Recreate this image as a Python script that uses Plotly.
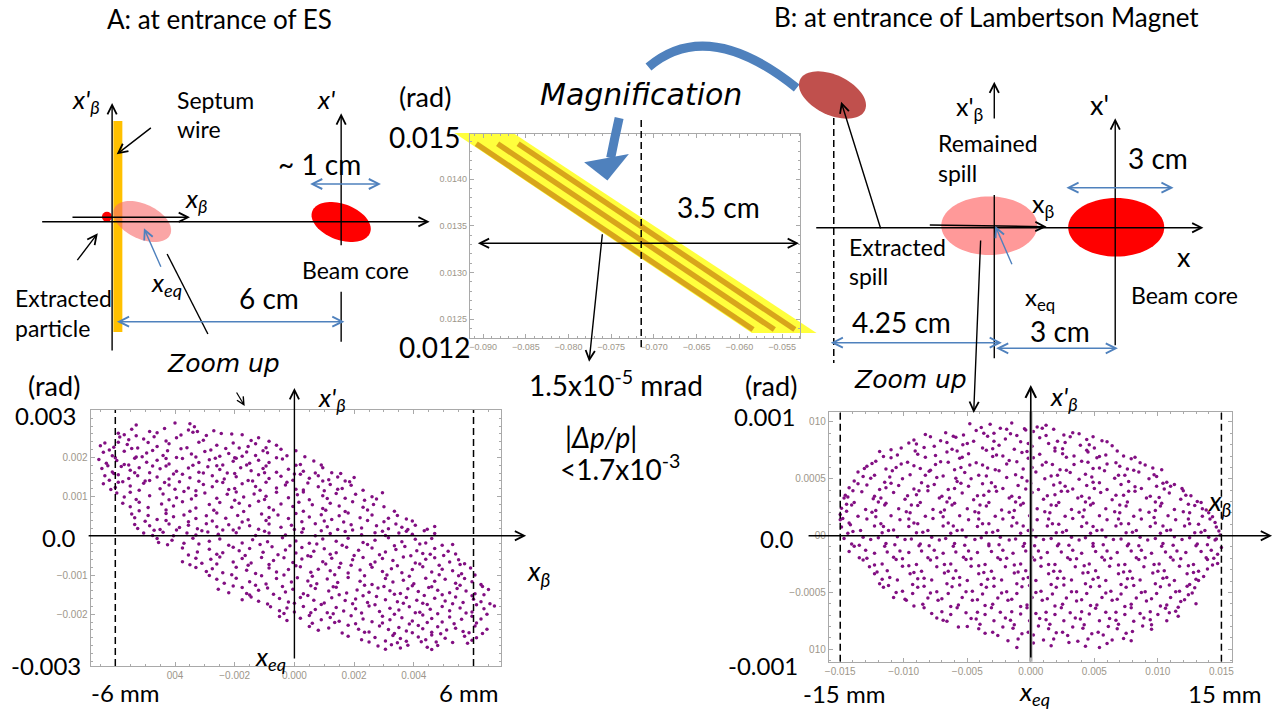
import plotly.graph_objects as go
import numpy as np

W, H = 1286, 711

# ------------------------------------------------------------------ data
# Bottom-left panel (A: zoom up at entrance of ES)
LEFT_RANGE_X = [-0.00683, 0.00693]
LEFT_RANGE_Y = [-0.00332, 0.00321]
LEFT_X_TICKS = [-0.004, -0.002, 0.0, 0.002, 0.004]
LEFT_X_TICKTEXT = ["004", "\u22120.002", "0.000", "0.002", "0.004"]
LEFT_Y_TICKS = [-0.002, -0.001, 0.0, 0.001, 0.002]
LEFT_Y_TICKTEXT = ["\u22120.002", "\u22120.001", "", "0.001", "0.002"]
LEFT_LIMITS = [-0.006, 0.006]

# particles (x in mm, x' in mrad)
LEFT_POINTS = [
    (-5.3, 2.83), (-4.0, 2.88), (-3.5, 2.86), (-3.35, 2.78),
    (-5.9, 2.62), (-5.45, 2.72), (-4.85, 2.66), (-4.35, 2.74), (-3.55, 2.70), (-3.4, 2.64), (-2.7, 2.68), (-2.45, 2.61), (-1.75, 2.58),
    (-5.85, 2.52), (-5.55, 2.45), (-5.3, 2.55), (-5.05, 2.47), (-4.7, 2.53), (-4.3, 2.42), (-3.95, 2.50), (-3.05, 2.44), (-2.95, 2.56), (-1.45, 2.43), (-1.2, 2.50), (-0.85, 2.41),
    (-6.5, 2.30), (-6.35, 2.37), (-6.05, 2.26), (-5.9, 2.39), (-5.6, 2.33), (-5.25, 2.24), (-4.9, 2.38), (-4.6, 2.28), (-4.2, 2.35), (-3.6, 2.25), (-3.2, 2.39), (-2.6, 2.31), (-2.3, 2.23), (-2.05, 2.37), (-1.55, 2.28), (-1.3, 2.35), (-0.95, 2.25), (-0.6, 2.31),
    (-6.4, 2.13), (-6.1, 2.04), (-5.7, 2.16), (-5.3, 2.01), (-4.95, 2.11), (-4.4, 2.05), (-4.25, 2.17), (-3.95, 2.00), (-3.45, 2.09), (-3.0, 2.15), (-2.5, 2.03), (-2.2, 2.10), (-2.0, 1.99), (-1.6, 2.14), (-1.3, 2.05), (-0.9, 2.12), (-0.25, 2.04), (0.05, 2.17),
    (-6.55, 1.95), (-6.3, 1.85), (-5.95, 1.92), (-5.7, 1.82), (-5.35, 1.98), (-4.95, 1.88), (-4.6, 1.93), (-4.2, 1.83), (-3.75, 1.97), (-3.2, 1.87), (-2.85, 1.94), (-2.4, 1.81), (-2.05, 1.90), (-1.95, 1.98), (-1.5, 1.85), (-1.2, 1.93), (-0.85, 1.87), (-0.4, 1.96), (0.2, 1.82), (0.65, 1.91),
    (-6.45, 1.72), (-6.1, 1.63), (-5.8, 1.77), (-5.5, 1.67), (-5.2, 1.74), (-4.85, 1.61), (-4.5, 1.71), (-4.3, 1.78), (-3.95, 1.65), (-3.55, 1.73), (-3.2, 1.62), (-2.9, 1.76), (-2.5, 1.69), (-2.25, 1.60), (-1.8, 1.74), (-1.45, 1.66), (-1.05, 1.72), (-0.6, 1.62), (-0.2, 1.70), (0.3, 1.65), (0.95, 1.74), (1.25, 1.61),
    (-6.35, 1.53), (-6.2, 1.42), (-5.9, 1.56), (-5.55, 1.46), (-5.25, 1.53), (-5.0, 1.40), (-4.6, 1.50), (-4.2, 1.45), (-3.75, 1.57), (-3.5, 1.48), (-3.2, 1.39), (-2.75, 1.53), (-2.35, 1.45), (-1.95, 1.51), (-1.55, 1.41), (-1.2, 1.56), (-0.85, 1.46), (-0.45, 1.52), (-0.05, 1.42), (0.2, 1.57), (0.5, 1.47), (0.8, 1.53), (1.15, 1.43), (1.45, 1.50), (1.7, 1.40), (2.0, 1.49),
    (-6.4, 1.33), (-6.0, 1.23), (-5.9, 1.37), (-5.5, 1.27), (-5.05, 1.34), (-4.5, 1.20), (-4.2, 1.30), (-3.85, 1.38), (-3.55, 1.22), (-3.05, 1.31), (-2.75, 1.25), (-2.4, 1.36), (-2.0, 1.21), (-1.75, 1.33), (-1.3, 1.26), (-0.95, 1.37), (-0.6, 1.22), (-0.3, 1.30), (0.05, 1.19), (0.45, 1.35), (0.8, 1.25), (1.2, 1.31), (1.6, 1.21), (1.9, 1.29),
    (-5.95, 1.09), (-5.7, 0.99), (-5.5, 1.11), (-4.85, 1.02), (-4.4, 1.07), (-3.95, 0.97), (-3.7, 1.13), (-3.3, 1.03), (-3.0, 1.09), (-2.6, 0.96), (-2.25, 1.06), (-1.95, 1.12), (-1.7, 0.99), (-1.35, 1.07), (-0.95, 1.01), (-0.6, 1.11), (-0.2, 0.97), (0.1, 1.05), (0.3, 1.12), (0.95, 1.02), (1.4, 1.08), (1.7, 0.96), (2.05, 1.06), (2.6, 1.00), (2.95, 1.10),
    (-5.75, 0.83), (-5.5, 0.74), (-5.2, 0.86), (-4.9, 0.72), (-4.45, 0.81), (-4.05, 0.76), (-3.75, 0.87), (-3.3, 0.71), (-2.85, 0.80), (-2.5, 0.85), (-2.1, 0.73), (-1.85, 0.83), (-1.5, 0.77), (-1.2, 0.88), (-0.85, 0.72), (-0.45, 0.81), (-0.05, 0.75), (0.15, 0.86), (0.6, 0.79), (0.95, 0.70), (1.2, 0.83), (1.5, 0.76), (1.95, 0.87), (2.3, 0.73), (2.65, 0.80), (3.0, 0.74),
    (-5.45, 0.56), (-5.35, 0.46), (-4.9, 0.52), (-4.6, 0.42), (-4.3, 0.57), (-4.05, 0.49), (-3.7, 0.53), (-3.3, 0.44), (-2.95, 0.51), (-2.6, 0.58), (-2.3, 0.45), (-1.9, 0.52), (-1.55, 0.41), (-1.1, 0.56), (-0.85, 0.47), (-0.55, 0.53), (-0.2, 0.44), (0.05, 0.57), (0.5, 0.48), (0.9, 0.54), (1.25, 0.42), (1.5, 0.51), (1.8, 0.58), (2.2, 0.46), (2.6, 0.53), (3.15, 0.45), (3.45, 0.52), (3.75, 0.43),
    (-5.35, 0.29), (-5.25, 0.19), (-4.85, 0.26), (-4.5, 0.16), (-4.2, 0.30), (-3.85, 0.21), (-3.55, 0.27), (-3.25, 0.18), (-2.95, 0.31), (-2.6, 0.23), (-2.4, 0.15), (-2.2, 0.28), (-1.85, 0.20), (-1.5, 0.26), (-1.2, 0.17), (-0.85, 0.30), (-0.45, 0.22), (-0.1, 0.27), (0.3, 0.18), (0.7, 0.31), (1.1, 0.23), (1.45, 0.16), (1.9, 0.28), (2.25, 0.20), (2.75, 0.26), (3.15, 0.18), (3.4, 0.30), (3.6, 0.22), (4.05, 0.27), (4.45, 0.17), (4.7, 0.24),
    (-5.05, 0.07), (-4.75, 0.01), (-4.4, 0.09), (-4.05, 0.0), (-3.6, 0.07), (-3.3, 0.02), (-2.9, 0.10), (-2.55, 0.04), (-1.95, 0.08), (-1.3, 0.01), (-0.85, 0.07), (-0.3, 0.02), (0.25, 0.09), (0.7, 0.0), (1.2, 0.06), (1.7, 0.11), (2.25, 0.03), (2.7, 0.08), (3.05, 0.01), (3.5, 0.07), (3.75, 0.12), (3.95, 0.04), (4.7, 0.06),
    (-4.6, -0.07), (-4.55, -0.17), (-4.1, -0.11), (-3.7, -0.19), (-3.4, -0.06), (-2.85, -0.14), (-2.5, -0.08), (-1.75, -0.18), (-1.4, -0.10), (-0.9, -0.15), (-0.4, -0.05), (0.05, -0.13), (0.5, -0.19), (0.95, -0.08), (1.4, -0.14), (1.8, -0.06), (2.3, -0.17), (2.7, -0.11), (3.15, -0.05), (3.6, -0.15), (4.05, -0.09), (4.4, -0.18), (4.6, -0.07),
    (-3.75, -0.31), (-3.25, -0.41), (-2.85, -0.34), (-2.4, -0.43), (-2.05, -0.29), (-1.85, -0.38), (-1.5, -0.32), (-1.05, -0.42), (-0.75, -0.28), (-0.3, -0.36), (0.05, -0.44), (0.25, -0.30), (0.65, -0.39), (1.0, -0.33), (1.4, -0.43), (1.75, -0.29), (2.15, -0.37), (2.6, -0.31), (3.05, -0.41), (3.4, -0.35), (3.7, -0.27), (4.1, -0.38), (4.3, -0.45), (4.7, -0.32), (5.15, -0.39), (5.4, -0.46),
    (-3.75, -0.66), (-3.3, -0.57), (-3.1, -0.70), (-2.8, -0.60), (-2.5, -0.54), (-2.05, -0.67), (-1.75, -0.58), (-1.45, -0.69), (-1.1, -0.55), (-0.7, -0.63), (-0.35, -0.56), (-0.05, -0.68), (0.25, -0.59), (0.55, -0.53), (0.95, -0.66), (1.25, -0.57), (1.55, -0.70), (1.95, -0.61), (2.3, -0.55), (2.7, -0.67), (2.95, -0.58), (3.3, -0.63), (3.65, -0.54), (4.05, -0.69), (4.4, -0.60), (4.7, -0.56), (5.2, -0.67), (5.5, -0.61), (5.7, -0.71),
    (-3.3, -0.81), (-2.95, -0.91), (-2.75, -0.84), (-2.4, -0.94), (-1.95, -0.80), (-1.6, -0.88), (-1.3, -0.96), (-0.85, -0.82), (-0.6, -0.92), (-0.2, -0.86), (0.2, -0.79), (0.55, -0.93), (0.8, -0.85), (1.2, -0.89), (1.5, -0.81), (1.8, -0.95), (2.2, -0.87), (2.6, -0.80), (2.95, -0.91), (3.25, -0.84), (3.6, -0.94), (3.95, -0.86), (4.3, -0.79), (4.6, -0.92), (4.95, -0.85), (5.3, -0.89), (5.6, -0.97), (5.9, -0.82),
    (-2.6, -1.11), (-2.35, -1.21), (-1.95, -1.08), (-1.5, -1.17), (-0.95, -1.23), (-0.6, -1.09), (-0.1, -1.18), (0.1, -1.07), (0.45, -1.15), (0.75, -1.22), (1.1, -1.10), (1.45, -1.19), (1.8, -1.06), (2.2, -1.16), (2.6, -1.24), (3.05, -1.09), (3.3, -1.18), (3.65, -1.13), (4.0, -1.22), (4.4, -1.08), (4.7, -1.16), (5.05, -1.11), (5.4, -1.21), (5.7, -1.09), (5.95, -1.17), (6.25, -1.24),
    (-2.55, -1.36), (-2.2, -1.45), (-1.75, -1.32), (-1.6, -1.47), (-1.2, -1.39), (-0.9, -1.33), (-0.3, -1.43), (-0.05, -1.36), (0.3, -1.48), (0.7, -1.34), (1.15, -1.41), (1.4, -1.31), (1.75, -1.46), (2.1, -1.38), (2.5, -1.44), (2.8, -1.33), (3.2, -1.40), (3.55, -1.47), (3.8, -1.35), (4.15, -1.42), (4.5, -1.32), (4.8, -1.39), (5.2, -1.45), (5.45, -1.34), (5.75, -1.41), (6.05, -1.48), (6.5, -1.37),
    (-1.75, -1.63), (-1.45, -1.56), (-1.2, -1.67), (-0.5, -1.60), (-0.2, -1.69), (0.2, -1.57), (0.65, -1.64), (1.0, -1.71), (1.25, -1.58), (1.7, -1.65), (2.05, -1.61), (2.45, -1.70), (2.75, -1.55), (3.05, -1.63), (3.45, -1.68), (3.75, -1.57), (4.1, -1.64), (4.3, -1.72), (4.7, -1.59), (5.05, -1.66), (5.4, -1.56), (5.65, -1.70), (6.0, -1.62), (6.25, -1.68),
    (-0.8, -1.81), (-0.5, -1.91), (-0.25, -1.84), (0.0, -1.94), (0.3, -1.80), (0.7, -1.88), (1.1, -1.96), (1.4, -1.83), (1.65, -1.92), (2.05, -1.86), (2.5, -1.79), (2.85, -1.93), (3.2, -1.85), (3.5, -1.89), (3.85, -1.81), (4.2, -1.95), (4.55, -1.87), (4.95, -1.80), (5.2, -1.91), (5.55, -1.84), (5.95, -1.94), (6.35, -1.86), (6.7, -1.79),
    (-0.5, -2.06), (-0.25, -2.16), (0.2, -2.10), (0.5, -2.03), (0.9, -2.14), (1.2, -2.08), (1.5, -2.18), (1.9, -2.04), (2.3, -2.12), (2.6, -2.19), (2.95, -2.05), (3.2, -2.14), (3.6, -2.09), (3.95, -2.17), (4.3, -2.02), (4.6, -2.11), (4.95, -2.20), (5.2, -2.07), (5.6, -2.13), (5.95, -2.05), (6.25, -2.12),
    (0.5, -2.31), (0.8, -2.41), (1.15, -2.35), (1.8, -2.28), (2.15, -2.38), (2.5, -2.45), (2.85, -2.30), (3.15, -2.39), (3.5, -2.34), (3.75, -2.43), (4.15, -2.29), (4.3, -2.37), (4.6, -2.46), (4.8, -2.32), (5.1, -2.40), (5.4, -2.36), (5.65, -2.44), (6.05, -2.30), (6.45, -2.38),
    (1.8, -2.56), (2.25, -2.65), (2.7, -2.59), (3.05, -2.68), (3.3, -2.54), (3.55, -2.62), (3.75, -2.69), (4.15, -2.58), (4.4, -2.65), (4.6, -2.53), (4.75, -2.71), (5.05, -2.61), (5.7, -2.56), (5.95, -2.66), (6.1, -2.60),
    (2.8, -2.81), (3.05, -2.89), (3.25, -2.78), (3.55, -2.86), (3.8, -2.79), (4.45, -2.84), (4.6, -2.90), (4.8, -2.80),
    # further particles between the rows above
    (-5.7, 2.58), (-4.6, 2.63), (-3.8, 2.57), (-2.1, 2.60), (-3.25, 2.66),
    (-6.2, 2.19), (-5.45, 2.23), (-4.75, 2.18), (-3.8, 2.22), (-2.8, 2.19), (-1.85, 2.24), (-1.05, 2.17), (-0.45, 2.21),
    (-6.0, 1.99), (-5.1, 2.02), (-4.3, 1.97), (-3.3, 2.01), (-2.65, 1.98), (-1.75, 2.03), (-0.6, 1.99), (0.35, 2.02),
    (-6.25, 1.79), (-5.55, 1.81), (-4.75, 1.78), (-3.4, 1.80), (-2.6, 1.79), (-1.6, 1.81), (-0.95, 1.78), (0.05, 1.80), (0.9, 1.81),
    (-6.05, 1.59), (-5.35, 1.61), (-4.05, 1.58), (-3.05, 1.60), (-2.0, 1.59), (-1.0, 1.61), (0.0, 1.58), (0.7, 1.60), (1.55, 1.59),
    (-5.75, 1.38), (-4.85, 1.41), (-4.35, 1.36), (-2.6, 1.39), (-1.4, 1.40), (-0.25, 1.37), (0.95, 1.40), (1.85, 1.38),
    (-6.15, 1.18), (-5.2, 1.16), (-4.0, 1.19), (-3.3, 1.15), (-2.2, 1.18), (-1.15, 1.16), (0.3, 1.17), (1.0, 1.15), (1.45, 1.19), (2.3, 1.16),
    (-5.3, 0.93), (-4.2, 0.92), (-3.45, 0.94), (-2.0, 0.91), (-1.0, 0.93), (0.5, 0.92), (1.1, 0.95), (2.35, 0.91), (2.75, 0.94),
    (-5.2, 0.64), (-4.3, 0.66), (-3.5, 0.63), (-2.7, 0.65), (-1.7, 0.62), (-0.7, 0.66), (0.3, 0.63), (1.05, 0.65), (1.7, 0.62), (2.45, 0.66), (3.35, 0.63),
    (-5.0, 0.37), (-4.3, 0.39), (-3.55, 0.36), (-2.75, 0.38), (-1.75, 0.35), (-0.95, 0.39), (0.25, 0.36), (1.0, 0.38), (1.65, 0.35), (2.45, 0.39), (3.0, 0.36), (3.95, 0.38),
    (-4.7, 0.14), (-3.95, 0.15), (-3.1, 0.13), (-2.05, 0.15), (-1.0, 0.12), (0.0, 0.16), (0.9, 0.13), (1.95, 0.15), (2.95, 0.12), (3.8, 0.16), (4.35, 0.13),
    (-4.25, -0.23), (-3.2, -0.21), (-2.2, -0.24), (-1.15, -0.22), (-0.15, -0.25), (0.75, -0.21), (1.6, -0.24), (2.45, -0.22), (3.35, -0.25), (4.2, -0.21), (4.95, -0.24), (5.3, -0.22),
    (-3.55, -0.49), (-2.6, -0.47), (-1.65, -0.50), (-0.55, -0.48), (0.45, -0.51), (1.2, -0.47), (2.0, -0.50), (2.85, -0.48), (3.9, -0.51), (4.55, -0.47), (5.0, -0.50),
    (-3.5, -0.74), (-2.6, -0.72), (-1.55, -0.75), (-0.85, -0.73), (0.05, -0.76), (1.05, -0.72), (1.9, -0.75), (2.55, -0.73), (3.45, -0.76), (4.2, -0.72), (4.85, -0.75), (5.55, -0.73),
    (-2.85, -1.01), (-2.1, -0.99), (-1.1, -1.02), (-0.35, -1.0), (0.6, -1.03), (1.35, -0.99), (2.35, -1.02), (3.1, -1.0), (3.85, -1.03), (4.85, -0.99), (5.5, -1.02), (6.05, -1.0),
    (-2.05, -1.28), (-1.3, -1.26), (-0.4, -1.29), (0.55, -1.27), (1.3, -1.30), (2.35, -1.26), (3.0, -1.29), (3.95, -1.27), (4.6, -1.30), (5.55, -1.26), (6.3, -1.29),
    (-1.5, -1.51), (-0.7, -1.49), (0.45, -1.52), (1.5, -1.50), (2.3, -1.53), (3.35, -1.49), (4.35, -1.52), (4.95, -1.50), (5.95, -1.53), (6.35, -1.50),
    (-0.9, -1.74), (0.0, -1.72), (0.9, -1.75), (1.95, -1.73), (2.7, -1.76), (3.65, -1.72), (4.45, -1.75), (5.3, -1.73), (6.1, -1.76), (6.55, -1.73),
    (-0.35, -1.98), (0.55, -1.96), (1.3, -1.99), (2.25, -1.97), (3.35, -2.0), (4.05, -1.96), (4.8, -1.99), (5.75, -1.97), (6.45, -2.0),
    (0.6, -2.23), (1.35, -2.21), (2.05, -2.24), (2.95, -2.22), (3.85, -2.25), (4.45, -2.21), (5.35, -2.24), (6.1, -2.22),
    (1.6, -2.48), (2.35, -2.46), (3.35, -2.49), (3.95, -2.47), (4.9, -2.50), (5.85, -2.47), (6.3, -2.49),
    (2.5, -2.71), (3.45, -2.73), (4.25, -2.70), (5.3, -2.72), (5.8, -2.74),
]

# Top-middle panel (magnified view)
MID_RANGE_X = [-0.09156, -0.05286]
MID_RANGE_Y = [0.012296, 0.014485]
MID_X_TICKS = [-0.090, -0.085, -0.080, -0.075, -0.070, -0.065, -0.060, -0.055]
MID_X_TICKTEXT = ["\u22120.090", "\u22120.085", "\u22120.080", "\u22120.075",
                  "\u22120.070", "\u22120.065", "\u22120.060", "\u22120.055"]
MID_Y_TICKS = [0.0125, 0.0130, 0.0135, 0.0140]
MID_Y_TICKTEXT = ["0.0125", "0.0130", "0.0135", "0.0140"]
MID_LINE_X_START = [-0.0908, -0.0883, -0.0859]
MID_LINE_X_END = [-0.0584, -0.0559, -0.0535]
MID_LINE_Y_START = 0.01438
MID_LINE_Y_END = 0.01239

# Bottom-right panel (B: zoom up at entrance of Lambertson magnet)
RIGHT_RANGE_X = [-0.0159, 0.0158]
RIGHT_RANGE_Y = [-0.00111, 0.00109]
RIGHT_X_TICKS = [-0.015, -0.010, -0.005, 0.0, 0.005, 0.010, 0.015]
RIGHT_X_TICKTEXT = ["\u22120.015", "\u22120.010", "\u22120.005", "0.000", "0.005", "0.010", "0.015"]
RIGHT_Y_TICKS = [-0.0010, -0.0005, 0.0, 0.0005, 0.0010]
RIGHT_Y_TICKTEXT = ["010", "\u22120.0005", "00", "0.0005", "010"]
RIGHT_LIMITS = [-0.015, 0.015]

# particles (x in mm, x' in 1e-4 rad)
RIGHT_POINTS = [
    (-4.8, 9.85), (-3.2, 9.8), (-1.5, 9.9), (0.5, 9.55), (-0.4, 9.3), (-2.4, 9.45), (1.2, 9.7),
    (-6.7, 9.05), (-5.3, 8.85), (-4.3, 9.25), (-2.9, 9.0), (-1.1, 8.8), (0.2, 9.15), (1.8, 9.35), (2.6, 8.85), (3.8, 8.95), (-0.5, 9.4),
    (-9.2, 8.4), (-7.9, 8.7), (-6.6, 8.2), (-5.9, 8.65), (-4.5, 8.3), (-3.4, 8.75), (-2.0, 8.5), (-0.8, 8.25), (0.7, 8.6), (2.1, 8.3), (3.1, 8.7), (4.4, 8.45), (5.6, 8.35),
    (-10.2, 7.7), (-9.0, 8.05), (-7.6, 7.85), (-6.2, 7.6), (-5.0, 8.1), (-3.8, 7.7), (-2.5, 7.95), (-1.3, 7.6), (0.1, 7.85), (1.4, 8.1), (2.5, 7.65), (3.9, 7.95), (5.0, 7.7), (6.4, 7.9),
    (-11.9, 7.4), (-10.5, 7.1), (-9.1, 7.45), (-7.5, 7.05), (-6.6, 7.35), (-4.9, 7.2), (-3.5, 7.5), (-2.2, 7.0), (-0.7, 7.3), (0.7, 7.15), (1.9, 7.45), (3.4, 7.0), (4.5, 7.35), (5.9, 7.1), (7.3, 7.0),
    (-12.2, 6.55), (-11.0, 6.85), (-9.7, 6.45), (-8.3, 6.9), (-7.1, 6.5), (-5.6, 6.8), (-4.3, 6.4), (-3.0, 6.95), (-1.7, 6.6), (-0.2, 6.8), (1.2, 6.45), (2.8, 6.9), (4.0, 6.55), (5.2, 6.85), (6.7, 6.4), (7.9, 6.75),
    (-12.9, 6.1), (-11.4, 5.85), (-10.2, 6.3), (-8.7, 5.9), (-7.5, 6.25), (-6.0, 5.8), (-4.8, 6.2), (-3.4, 5.95), (-1.9, 6.3), (-0.6, 5.85), (0.9, 6.2), (2.3, 5.8), (3.4, 6.25), (4.9, 5.9), (6.0, 6.3), (7.6, 5.85), (9.0, 6.2),
    (-13.6, 5.6), (-12.3, 5.3), (-10.9, 5.7), (-9.5, 5.35), (-8.0, 5.65), (-6.9, 5.25), (-5.2, 5.55), (-4.1, 5.3), (-2.5, 5.7), (-1.2, 5.35), (0.4, 5.6), (1.6, 5.25), (3.1, 5.55), (4.3, 5.4), (5.8, 5.7), (6.9, 5.3), (8.5, 5.6), (9.7, 5.35), (10.3, 5.8),
    (-13.9, 4.8), (-12.6, 5.05), (-11.5, 4.7), (-10.1, 5.0), (-8.6, 4.65), (-7.4, 5.1), (-5.8, 4.75), (-4.7, 5.0), (-3.1, 4.65), (-1.9, 5.1), (-0.3, 4.8), (1.1, 5.0), (2.3, 4.65), (3.8, 4.95), (4.9, 4.7), (6.6, 5.05), (7.7, 4.75), (9.3, 5.0), (10.7, 4.7),
    (-14.3, 4.2), (-12.9, 4.45), (-11.9, 4.05), (-10.4, 4.4), (-9.2, 4.1), (-7.6, 4.5), (-6.5, 4.05), (-4.9, 4.35), (-3.8, 4.55), (-2.2, 4.15), (-1.0, 4.4), (0.6, 4.05), (1.8, 4.45), (3.3, 4.1), (4.4, 4.4), (6.0, 4.05), (7.1, 4.5), (8.7, 4.15), (9.9, 4.35), (11.3, 4.5), (11.9, 4.15),
    (-14.6, 3.55), (-13.3, 3.85), (-12.3, 3.45), (-10.8, 3.8), (-9.7, 3.5), (-8.1, 3.95), (-7.0, 3.45), (-5.4, 3.75), (-4.2, 3.5), (-2.7, 3.9), (-1.5, 3.45), (0.1, 3.8), (1.3, 3.5), (2.9, 3.9), (4.0, 3.45), (5.5, 3.8), (6.7, 3.55), (8.2, 3.9), (9.4, 3.45), (10.9, 3.75), (12.2, 3.55),
    (-14.7, 3.3), (-13.9, 2.9), (-12.4, 3.25), (-11.4, 2.85), (-9.9, 3.2), (-8.7, 2.9), (-7.2, 3.3), (-6.0, 2.85), (-4.5, 3.15), (-3.3, 2.9), (-1.7, 3.3), (-0.6, 2.85), (1.0, 3.2), (2.2, 2.9), (3.7, 3.3), (4.9, 2.85), (6.4, 3.15), (7.6, 2.95), (9.1, 3.3), (10.3, 2.85), (11.8, 3.2), (13.1, 3.0),
    (-14.9, 2.4), (-14.1, 2.7), (-13.0, 2.3), (-11.5, 2.7), (-10.4, 2.35), (-8.9, 2.65), (-7.7, 2.3), (-6.2, 2.7), (-5.0, 2.35), (-3.5, 2.6), (-2.3, 2.25), (-0.8, 2.7), (0.5, 2.35), (2.0, 2.65), (3.2, 2.3), (4.7, 2.7), (5.9, 2.35), (7.5, 2.6), (8.6, 2.25), (10.2, 2.6), (11.3, 2.3), (12.9, 2.65), (13.5, 2.35),
    (-15.0, 1.85), (-13.6, 1.7), (-12.5, 2.05), (-11.0, 1.75), (-9.8, 2.1), (-8.3, 1.7), (-7.1, 2.05), (-5.6, 1.75), (-4.4, 2.1), (-2.8, 1.7), (-1.7, 2.05), (-0.1, 1.75), (1.1, 2.1), (2.7, 1.7), (3.8, 2.05), (5.4, 1.75), (6.6, 2.1), (8.1, 1.7), (9.3, 2.05), (10.8, 1.75), (12.0, 2.1), (13.5, 1.7), (14.0, 2.0),
    (-14.8, 1.5), (-14.3, 1.1), (-12.9, 1.45), (-11.8, 1.05), (-10.3, 1.4), (-9.2, 1.1), (-7.7, 1.5), (-6.5, 1.1), (-4.9, 1.4), (-3.8, 1.05), (-2.2, 1.45), (-1.1, 1.1), (0.5, 1.4), (1.7, 1.05), (3.3, 1.5), (4.4, 1.1), (6.0, 1.4), (7.1, 1.05), (8.7, 1.45), (9.8, 1.1), (11.4, 1.4), (12.5, 1.05), (14.1, 1.45), (14.5, 1.15),
    (-14.9, 0.75), (-13.4, 0.45), (-12.3, 0.85), (-10.8, 0.5), (-9.6, 0.8), (-8.1, 0.45), (-6.9, 0.85), (-5.4, 0.5), (-4.2, 0.8), (-2.6, 0.45), (-1.5, 0.85), (0.1, 0.5), (1.3, 0.85), (2.8, 0.45), (4.0, 0.8), (5.6, 0.5), (6.7, 0.85), (8.3, 0.45), (9.4, 0.8), (11.0, 0.5), (12.1, 0.85), (13.7, 0.45), (14.6, 0.75),
    (-14.4, 0.2), (-13.2, -0.15), (-11.7, 0.25), (-10.5, -0.1), (-9.0, 0.25), (-7.8, -0.15), (-6.3, 0.2), (-5.1, -0.1), (-3.5, 0.25), (-2.4, -0.15), (-0.8, 0.2), (0.4, -0.1), (2.0, 0.25), (3.2, -0.15), (4.7, 0.2), (5.9, -0.1), (7.5, 0.25), (8.6, -0.15), (10.2, 0.2), (11.3, -0.1), (12.9, 0.25), (14.0, -0.15), (14.9, 0.05),
    (-14.1, -0.75), (-12.6, -0.35), (-11.4, -0.7), (-9.9, -0.35), (-8.7, -0.75), (-7.2, -0.4), (-6.0, -0.7), (-4.4, -0.35), (-3.3, -0.75), (-1.7, -0.4), (-0.5, -0.7), (1.0, -0.35), (2.2, -0.75), (3.8, -0.4), (4.9, -0.7), (6.5, -0.35), (7.7, -0.75), (9.2, -0.4), (10.4, -0.7), (11.9, -0.35), (13.1, -0.75), (14.5, -0.4),
    (-13.9, -0.95), (-13.0, -1.3), (-11.5, -0.95), (-10.3, -1.35), (-8.8, -0.9), (-7.6, -1.3), (-6.1, -0.95), (-4.9, -1.35), (-3.3, -0.9), (-2.2, -1.3), (-0.6, -0.95), (0.6, -1.35), (2.1, -0.9), (3.3, -1.3), (4.9, -0.95), (6.0, -1.35), (7.6, -0.9), (8.7, -1.3), (10.3, -0.95), (11.5, -1.35), (13.0, -0.9), (14.2, -1.3), (15.0, -1.05),
    (-13.5, -1.95), (-12.3, -1.55), (-10.8, -1.9), (-9.6, -1.5), (-8.1, -1.95), (-6.9, -1.55), (-5.3, -1.9), (-4.2, -1.5), (-2.6, -1.95), (-1.4, -1.55), (0.1, -1.9), (1.3, -1.5), (2.9, -1.95), (4.0, -1.55), (5.6, -1.9), (6.8, -1.5), (8.3, -1.95), (9.5, -1.55), (11.0, -1.9), (12.2, -1.5), (13.8, -1.95), (14.7, -1.65),
    (-13.2, -2.15), (-11.7, -2.5), (-10.6, -2.1), (-9.0, -2.55), (-7.9, -2.15), (-6.3, -2.5), (-5.1, -2.1), (-3.6, -2.55), (-2.4, -2.1), (-0.8, -2.5), (0.3, -2.15), (1.9, -2.55), (3.1, -2.1), (4.6, -2.5), (5.8, -2.15), (7.4, -2.55), (8.5, -2.1), (10.1, -2.5), (11.2, -2.15), (12.8, -2.55), (13.9, -2.1), (14.7, -2.45),
    (-12.7, -2.75), (-11.3, -3.1), (-10.1, -2.7), (-8.6, -3.15), (-7.4, -2.75), (-5.9, -3.1), (-4.7, -2.7), (-3.1, -3.15), (-2.0, -2.75), (-0.4, -3.1), (0.8, -2.7), (2.3, -3.15), (3.5, -2.75), (5.1, -3.1), (6.2, -2.7), (7.8, -3.15), (8.9, -2.75), (10.5, -3.1), (11.7, -2.7), (13.2, -3.15), (13.9, -2.95),
    (-12.3, -3.35), (-11.1, -3.7), (-9.5, -3.35), (-8.4, -3.75), (-6.8, -3.3), (-5.6, -3.7), (-4.1, -3.35), (-2.9, -3.75), (-1.3, -3.3), (-0.2, -3.7), (1.4, -3.35), (2.6, -3.75), (4.1, -3.3), (5.3, -3.7), (6.9, -3.35), (8.0, -3.75), (9.6, -3.3), (10.7, -3.7), (12.3, -3.35), (13.6, -3.6),
    (-11.9, -4.25), (-10.5, -3.9), (-9.3, -4.3), (-7.8, -3.9), (-6.6, -4.25), (-5.0, -3.95), (-3.9, -4.3), (-2.3, -3.9), (-1.1, -4.25), (0.4, -3.95), (1.6, -4.3), (3.2, -3.9), (4.3, -4.25), (5.9, -3.95), (7.1, -4.3), (8.6, -3.9), (9.8, -4.25), (11.3, -3.95), (12.5, -4.3), (13.2, -3.95),
    (-11.6, -4.55), (-10.1, -4.9), (-8.9, -4.55), (-7.4, -4.95), (-6.2, -4.5), (-4.6, -4.9), (-3.5, -4.55), (-1.9, -4.95), (-0.7, -4.5), (0.8, -4.9), (2.0, -4.55), (3.6, -4.95), (4.7, -4.5), (6.3, -4.9), (7.5, -4.55), (9.0, -4.95), (10.2, -4.5), (11.7, -4.9), (12.9, -4.6),
    (-10.8, -5.45), (-9.3, -5.1), (-8.1, -5.5), (-6.5, -5.1), (-5.4, -5.45), (-3.8, -5.15), (-2.6, -5.5), (-1.1, -5.1), (0.1, -5.45), (1.7, -5.15), (2.8, -5.5), (4.4, -5.1), (5.6, -5.45), (7.1, -5.15), (8.3, -5.5), (9.9, -5.1), (11.0, -5.45), (12.4, -5.2),
    (-9.8, -5.7), (-8.5, -6.05), (-7.3, -5.7), (-5.7, -6.1), (-4.6, -5.7), (-3.0, -6.05), (-1.8, -5.7), (-0.3, -6.1), (0.9, -5.7), (2.5, -6.05), (3.6, -5.75), (5.2, -6.1), (6.4, -5.7), (7.9, -6.05), (9.1, -5.75), (10.7, -6.1), (11.8, -5.8), (13.0, -6.0),
    (-8.4, -6.35), (-7.0, -6.7), (-5.8, -6.35), (-4.2, -6.75), (-3.1, -6.35), (-1.5, -6.7), (-0.3, -6.35), (1.2, -6.75), (2.4, -6.35), (4.0, -6.7), (5.1, -6.4), (6.7, -6.75), (7.9, -6.35), (9.4, -6.7), (10.6, -6.4), (11.4, -6.65),
    (-7.4, -7.25), (-6.3, -6.95), (-4.7, -7.3), (-3.6, -6.95), (-2.0, -7.25), (-0.8, -6.9), (0.7, -7.3), (1.9, -6.95), (3.5, -7.25), (4.6, -6.9), (6.2, -7.3), (7.4, -6.95), (8.9, -7.25), (10.0, -6.95), (11.6, -7.1),
    (-6.6, -7.55), (-5.7, -8.05), (-4.0, -7.8), (-2.9, -7.5), (-1.3, -7.85), (-0.1, -7.5), (1.5, -7.8), (2.6, -7.5), (4.2, -7.85), (5.4, -7.5), (6.9, -7.8), (8.1, -7.55), (9.5, -7.85),
    (-4.1, -8.2), (-3.0, -8.5), (-1.4, -8.15), (-0.2, -8.5), (1.4, -8.2), (2.5, -8.5), (4.1, -8.15), (5.3, -8.5), (6.8, -8.2), (8.0, -8.45), (9.5, -8.25),
    (-2.6, -8.8), (-1.0, -9.1), (0.2, -8.75), (1.8, -9.1), (2.9, -8.8), (4.5, -9.1), (5.7, -8.75), (7.3, -9.05), (7.9, -9.25),
    (-1.1, -9.85), (0.2, -9.45), (1.6, -9.7), (3.0, -9.4), (4.3, -9.75), (5.4, -9.85), (6.0, -9.5),
    # further particles between the rows above
    (-3.9, 9.5), (-1.9, 9.35), (0.9, 9.45),
    (-8.3, 8.9), (-6.1, 8.75), (-3.7, 9.0), (-1.6, 8.95), (1.2, 8.8), (3.3, 9.05), (4.9, 8.7),
    (-9.6, 8.15), (-7.1, 8.35), (-5.35, 8.0), (-2.9, 8.3), (-0.2, 8.1), (2.7, 8.2), (4.6, 8.0), (6.0, 8.25),
    (-11.0, 7.55), (-8.4, 7.75), (-5.8, 7.45), (-3.0, 7.65), (-0.3, 7.4), (1.9, 7.7), (4.4, 7.5), (6.8, 7.45),
    (-11.6, 6.95), (-8.9, 7.15), (-5.4, 6.9), (-2.7, 7.1), (0.2, 6.85), (2.5, 7.2), (5.4, 6.95), (8.2, 6.9),
    (-12.5, 6.35), (-9.2, 6.15), (-6.5, 6.45), (-3.8, 6.2), (-1.1, 6.5), (1.7, 6.25), (4.5, 6.45), (7.0, 6.1), (8.6, 6.4),
    (-13.1, 5.9), (-10.6, 6.0), (-7.9, 5.75), (-5.5, 6.0), (-2.8, 5.8), (0.1, 6.0), (2.8, 5.75), (5.4, 5.95), (8.1, 5.75), (9.6, 5.95),
    (-13.2, 5.2), (-11.1, 5.15), (-8.3, 5.3), (-5.9, 5.05), (-3.5, 5.25), (-0.7, 5.1), (2.1, 5.3), (4.8, 5.15), (7.4, 5.3), (9.9, 5.2),
    (-13.6, 4.55), (-11.0, 4.6), (-8.1, 4.35), (-5.5, 4.6), (-2.8, 4.3), (0.0, 4.6), (2.7, 4.35), (5.4, 4.65), (8.2, 4.3), (10.4, 4.6), (11.0, 4.35),
    (-14.0, 3.95), (-11.4, 4.2), (-8.8, 3.95), (-6.0, 4.15), (-3.3, 3.9), (-0.4, 4.1), (2.4, 3.9), (5.0, 4.15), (7.7, 3.9), (10.5, 4.1), (12.0, 3.95),
    (-14.4, 3.4), (-11.8, 3.3), (-9.0, 3.6), (-6.4, 3.3), (-3.7, 3.55), (-0.9, 3.35), (1.9, 3.6), (4.6, 3.3), (7.3, 3.55), (10.1, 3.35), (12.6, 3.5),
    (-14.5, 2.75), (-12.0, 2.95), (-9.4, 2.7), (-6.6, 2.95), (-4.0, 2.7), (-1.2, 2.95), (1.6, 2.7), (4.3, 2.95), (7.0, 2.7), (9.8, 2.95), (12.4, 2.75), (13.4, 2.9),
    (-14.5, 2.15), (-12.2, 2.2), (-9.5, 2.0), (-6.8, 2.25), (-4.1, 2.0), (-1.3, 2.2), (1.5, 2.0), (4.2, 2.25), (7.0, 2.0), (9.8, 2.2), (12.5, 2.0), (13.8, 2.25),
    (-15.0, 1.4), (-12.2, 1.65), (-9.6, 1.45), (-6.9, 1.65), (-4.1, 1.45), (-1.4, 1.6), (1.4, 1.45), (4.1, 1.65), (6.9, 1.45), (9.7, 1.6), (12.4, 1.45), (14.3, 1.65),
    (-14.2, 0.95), (-11.6, 0.8), (-8.9, 1.05), (-6.1, 0.85), (-3.3, 1.05), (-0.6, 0.85), (2.2, 1.0), (4.9, 0.8), (7.7, 1.05), (10.4, 0.85), (13.2, 1.0),
    (-14.0, 0.35), (-11.2, 0.45), (-8.5, 0.3), (-5.8, 0.45), (-3.0, 0.3), (-0.2, 0.45), (2.5, 0.3), (5.2, 0.45), (8.0, 0.3), (10.7, 0.45), (13.4, 0.3), (14.8, 0.4),
    (-14.7, -0.25), (-12.0, -0.2), (-9.4, -0.3), (-6.7, -0.25), (-3.9, -0.2), (-1.2, -0.3), (1.6, -0.25), (4.3, -0.2), (7.1, -0.3), (9.8, -0.25), (12.5, -0.2), (14.6, -0.3),
    (-13.5, -0.85), (-10.7, -0.8), (-8.0, -0.9), (-5.2, -0.85), (-2.5, -0.8), (0.3, -0.9), (3.0, -0.85), (5.7, -0.8), (8.5, -0.9), (11.2, -0.85), (13.9, -0.8),
    (-14.3, -1.4), (-11.3, -1.45), (-8.6, -1.35), (-5.9, -1.45), (-3.1, -1.4), (-0.4, -1.35), (2.4, -1.45), (5.1, -1.4), (7.9, -1.35), (10.6, -1.45), (13.4, -1.4),
    (-12.9, -2.0), (-10.1, -2.05), (-7.4, -1.95), (-4.7, -2.05), (-1.9, -2.0), (0.8, -1.95), (3.6, -2.05), (6.3, -2.0), (9.0, -1.95), (11.8, -2.05), (14.4, -2.0),
    (-12.3, -2.6), (-9.6, -2.65), (-6.8, -2.55), (-4.1, -2.65), (-1.3, -2.6), (1.4, -2.55), (4.2, -2.65), (6.9, -2.6), (9.7, -2.55), (12.4, -2.65), (14.3, -2.6),
    (-12.1, -3.2), (-9.2, -3.25), (-6.5, -3.15), (-3.7, -3.25), (-1.0, -3.2), (1.8, -3.15), (4.5, -3.25), (7.3, -3.2), (10.0, -3.15), (12.8, -3.25),
    (-11.7, -3.85), (-8.9, -3.8), (-6.1, -3.75), (-3.4, -3.85), (-0.6, -3.8), (2.1, -3.75), (4.9, -3.85), (7.6, -3.8), (10.4, -3.75), (13.0, -3.85),
    (-11.2, -4.4), (-8.4, -4.45), (-5.6, -4.35), (-2.9, -4.45), (-0.1, -4.4), (2.6, -4.35), (5.4, -4.45), (8.1, -4.4), (10.9, -4.35), (12.3, -4.45),
    (-10.6, -5.0), (-7.9, -5.05), (-5.1, -4.95), (-2.3, -5.05), (0.4, -5.0), (3.2, -4.95), (5.9, -5.05), (8.7, -5.0), (11.4, -4.95), (12.7, -5.05),
    (-9.9, -5.6), (-7.0, -5.55), (-4.2, -5.65), (-1.5, -5.6), (1.3, -5.55), (4.0, -5.65), (6.8, -5.6), (9.5, -5.55), (12.1, -5.65),
    (-9.2, -6.2), (-6.3, -6.25), (-3.6, -6.15), (-0.8, -6.25), (1.9, -6.2), (4.7, -6.15), (7.4, -6.25), (10.2, -6.2), (11.6, -6.3),
    (-7.8, -6.85), (-5.1, -6.8), (-2.4, -6.75), (0.4, -6.85), (3.1, -6.8), (5.9, -6.75), (8.6, -6.85), (10.9, -6.8),
    (-6.9, -7.45), (-4.3, -7.35), (-1.6, -7.45), (1.2, -7.4), (3.9, -7.35), (6.7, -7.45), (9.4, -7.4), (10.7, -7.5),
    (-5.0, -8.0), (-2.2, -8.05), (0.6, -7.95), (3.3, -8.05), (6.1, -8.0), (8.8, -7.95),
    (-3.6, -8.6), (-0.7, -8.65), (2.0, -8.55), (4.8, -8.65), (7.5, -8.6),
    (-1.8, -9.25), (1.0, -9.2), (3.7, -9.3), (6.4, -9.2),
]

left_x = [p[0] * 1e-3 for p in LEFT_POINTS]
left_y = [p[1] * 1e-3 for p in LEFT_POINTS]
right_x = [p[0] * 1e-3 for p in RIGHT_POINTS]
right_y = [p[1] * 1e-4 for p in RIGHT_POINTS]

# ------------------------------------------------------------------ style
BODY = "Lato"
OBL = "DejaVu Sans"
TICKFONT = dict(family="Liberation Sans", size=10, color="#9d968a")
BLUE = "#4f81bd"
PURPLE = "#820f82"
FRAME = "#a9a9a9"
S_BODY = 23
S_BIG = 28
S_TITLE = 26


def PX(x):
    return x / W


def PY(y):
    return 1 - y / H


shapes = []
ann = []


def T(x, y, s, size=S_BODY, fam=BODY, xa="center", ya="middle", color="black", bg=None):
    d = dict(x=PX(x), y=PY(y), xref="paper", yref="paper", text=s, showarrow=False,
             xanchor=xa, yanchor=ya, font=dict(family=fam, size=size, color=color),
             borderpad=0)
    if bg:
        d["bgcolor"] = bg
    ann.append(d)


def A(x0, y0, x1, y1, color="black", w=1.4, size=1.3, both=False):
    d = dict(x=PX(x1), y=PY(y1), xref="paper", yref="paper", ax=x0 - x1, ay=y0 - y1,
             axref="pixel", ayref="pixel", text="", showarrow=True, arrowhead=5,
             arrowsize=size, arrowwidth=w, arrowcolor=color, standoff=0)
    if both:
        d.update(arrowside="end+start", startarrowhead=5, startarrowsize=size, startstandoff=0)
    ann.append(d)


def L(x0, y0, x1, y1, color="black", w=1.4, dash=None, layer="above"):
    shapes.append(dict(type="line", xref="paper", yref="paper", x0=PX(x0), y0=PY(y0),
                       x1=PX(x1), y1=PY(y1), line=dict(color=color, width=w, dash=dash),
                       layer=layer))


def poly_path(pts, close=True):
    s = "M " + " L ".join(f"{PX(x):.5f},{PY(y):.5f}" for x, y in pts)
    return s + (" Z" if close else "")


def ellipse(cx, cy, a, b, theta, fill, layer="above"):
    th = np.radians(theta)
    pts = []
    for i in range(72):
        t = 2 * np.pi * i / 72
        x = cx + a * np.cos(t) * np.cos(th) - b * np.sin(t) * np.sin(th)
        y = cy + a * np.cos(t) * np.sin(th) + b * np.sin(t) * np.cos(th)
        pts.append((x, y))
    shapes.append(dict(type="path", xref="paper", yref="paper", path=poly_path(pts),
                       fillcolor=fill, line=dict(width=0), layer=layer))


def curve(x0, y0, cx, cy, x1, y1, color, w):
    p = f"M {PX(x0):.5f},{PY(y0):.5f} Q {PX(cx):.5f},{PY(cy):.5f} {PX(x1):.5f},{PY(y1):.5f}"
    shapes.append(dict(type="path", xref="paper", yref="paper", path=p,
                       fillcolor="rgba(0,0,0,0)", line=dict(color=color, width=w), layer="above"))


# ------------------------------------------------------------------ figure
fig = go.Figure()

fig.add_trace(go.Scatter(x=left_x, y=left_y, mode="markers", xaxis="x", yaxis="y",
                         marker=dict(size=3.5, color=PURPLE), hoverinfo="skip"))
for xs, xe in zip(MID_LINE_X_START, MID_LINE_X_END):
    fig.add_trace(go.Scatter(x=[xs, xe], y=[MID_LINE_Y_START, MID_LINE_Y_END], mode="lines",
                             xaxis="x2", yaxis="y2",
                             line=dict(color="rgba(214,160,25,0.95)", width=5.5), hoverinfo="skip"))
fig.add_trace(go.Scatter(x=right_x, y=right_y, mode="markers", xaxis="x3", yaxis="y3",
                         marker=dict(size=3.5, color=PURPLE), hoverinfo="skip"))


def frame_axis(dom, rng, tv, tt, minor, anchor, tickfont=TICKFONT):
    return dict(domain=dom, range=rng, anchor=anchor, showgrid=False, zeroline=False,
                showline=True, linecolor=FRAME, linewidth=1, mirror="allticks",
                ticks="inside", ticklen=4, tickcolor=FRAME, tickwidth=1,
                tickmode="array", tickvals=tv, ticktext=tt, tickfont=tickfont,
                minor=dict(ticks="inside", ticklen=2, tickcolor=FRAME, dtick=minor, tick0=0),
                fixedrange=True)


left_dom_x = [PX(87), PX(500)]
left_dom_y = [PY(666), PY(410)]
mid_dom_x = [PX(468.3), PX(800.7)]
mid_dom_y = [PY(338.3), PY(134)]
right_dom_x = [PX(829.3), PX(1234.3)]
right_dom_y = [PY(661.7), PY(411.7)]

MIDFONT = dict(family="Liberation Sans", size=9, color="#9d968a")

fig.update_layout(
    width=W, height=H, margin=dict(l=0, r=0, t=0, b=0),
    paper_bgcolor="white", plot_bgcolor="rgba(0,0,0,0)", showlegend=False,
    xaxis=frame_axis(left_dom_x, LEFT_RANGE_X, LEFT_X_TICKS, LEFT_X_TICKTEXT, 0.0005, "y"),
    yaxis=frame_axis(left_dom_y, LEFT_RANGE_Y, LEFT_Y_TICKS, LEFT_Y_TICKTEXT, 0.0002, "x"),
    xaxis2=frame_axis(mid_dom_x, MID_RANGE_X, MID_X_TICKS, MID_X_TICKTEXT, 0.001, "y2", MIDFONT),
    yaxis2=frame_axis(mid_dom_y, MID_RANGE_Y, MID_Y_TICKS, MID_Y_TICKTEXT, 0.0001, "x2", MIDFONT),
    xaxis3=frame_axis(right_dom_x, RIGHT_RANGE_X, RIGHT_X_TICKS, RIGHT_X_TICKTEXT, 0.001, "y3"),
    yaxis3=frame_axis(right_dom_y, RIGHT_RANGE_Y, RIGHT_Y_TICKS, RIGHT_Y_TICKTEXT, 0.0001, "x3"),
)

# ------------------------------------------------------------------ A: top-left schematic
shapes.append(dict(type="rect", xref="paper", yref="paper", x0=PX(110), x1=PX(119),
                   y0=PY(332), y1=PY(121), fillcolor="#ffc000", line=dict(width=0), layer="above"))
ellipse(139, 221.5, 31, 17.4, 25, "rgba(247,105,105,0.6)")
ellipse(339, 222, 31, 18, 20, "#ff0000")
shapes.append(dict(type="circle", xref="paper", yref="paper", x0=PX(98.5), x1=PX(108.5),
                   y0=PY(221.7), y1=PY(211.7), fillcolor="#ff0000", line=dict(width=0), layer="above"))
L(164, 254, 205, 334)
L(339, 291.7, 339, 341.7)

T(217, 19, "A: at entrance of ES", size=S_TITLE)
A(108.7, 352, 108.7, 103)
T(82, 100, "<i>x'<sub>β</sub></i>", size=26)
A(39, 221.7, 428, 221.7)
A(68, 217.3, 187, 217.3)
T(194, 199, "<i>x<sub>β</sub></i>", size=26)
A(339, 246.7, 339, 113.3)
T(324, 99, "<i>x'</i>", size=26)
T(317, 164, "~ 1 cm", size=S_BIG)
A(306.7, 184, 379, 184, color=BLUE, size=1.4, both=True)
T(173, 100, "Septum", xa="left")
T(173, 129, "wire", xa="left")
A(149, 126.7, 113.3, 154.3)
A(72.7, 261.7, 94.3, 233.3)
T(10, 298, "Extracted", xa="left")
T(10, 328, "particle", xa="left")
A(158.3, 268.3, 140.7, 228.3, color=BLUE)
T(163, 283, "<i>x<sub>eq</sub></i>", size=26)
T(266.7, 298, "6 cm", size=S_BIG)
A(113.3, 321.7, 342.3, 321.7, color=BLUE, size=1.4, both=True)
T(353, 270, "Beam core")
T(221, 363, "<i>Zoom up</i>", size=25, fam=OBL)
A(233, 391, 242, 406, w=1.2, size=1.2)

# ------------------------------------------------------------------ middle
shapes.append(dict(type="path", xref="paper", yref="paper",
                   path=poly_path([(453, 133), (512, 133), (817, 333), (752, 333)]),
                   fillcolor="rgba(255,255,40,0.9)", line=dict(width=0), layer="below"))
L(640.7, 120, 640.7, 347, w=1.5, dash="7px,4px")
curve(648, 67, 707.5, 16.5, 797, 88, BLUE, 9)
curve(618.5, 118, 614, 138, 610, 158, BLUE, 9)
shapes.append(dict(type="path", xref="paper", yref="paper",
                   path=poly_path([(583.3, 162.3), (628.3, 154), (606.7, 180.5)]),
                   fillcolor=BLUE, line=dict(width=0), layer="above"))

T(423, 97, "(rad)", size=27)
T(640, 95, "<i>Magnification</i>", size=30, fam=OBL)
T(423, 137, "0.015", size=S_BIG)
T(433, 347, "0.012", size=S_BIG)
A(476.7, 243.3, 799.3, 243.3, size=1.3, both=True)
T(718, 207, "3.5 cm", size=S_BIG)
A(601.7, 232.7, 588.3, 361.7)
T(615, 383, "1.5x10<sup>-5</sup> mrad", size=S_BIG)
T(600, 437, "|<i>Δp/p</i>|", size=S_BIG)
T(619, 468, "<1.7x10<sup>-3</sup>", size=S_BIG)

# ------------------------------------------------------------------ B: top-right schematic
ellipse(833, 95, 36, 20, 25, "#c0504d")
ellipse(990.7, 225.7, 48.3, 29.3, 0, "#ff9999")
ellipse(1118.3, 227.3, 48.3, 29.3, 0, "#ff0000")
L(834.3, 118, 834.3, 363, w=1.5, dash="7px,4px")
L(995.7, 195, 995.7, 358.3)

T(988, 17, "B: at entrance of Lambertson Magnet", size=S_TITLE)
A(817.3, 227.7, 1206, 227.7)
A(995.7, 120, 995.7, 81.7)
T(971, 108, "x'<sub>β</sub>", size=25)
A(1117.3, 346.7, 1117.3, 118.3)
T(1101.7, 105, "x'", size=27)
T(938.3, 143.3, "Remained", xa="left")
T(938.3, 173.3, "spill", xa="left")
T(1160, 158.3, "3 cm", size=S_BIG)
A(1067.3, 187.7, 1176, 187.7, color=BLUE, size=1.4, both=True)
T(1045, 205, "x<sub>β</sub>", size=25)
A(930, 225, 1048.3, 226.7)
T(1186.7, 256.7, "x", size=27)
T(1131.7, 295, "Beam core", xa="left")
A(1014, 265.7, 996.7, 226, color=BLUE)
T(1042, 298, "x<sub>eq</sub>", size=24)
T(1062, 331, "3 cm", size=S_BIG)
A(996.7, 348.3, 1120, 348.3, color=BLUE, size=1.4, both=True)
T(902.5, 321.7, "4.25 cm", size=S_BIG)
A(830.7, 342.7, 1003.3, 342.7, color=BLUE, size=1.4, both=True)
T(848.3, 246.7, "Extracted", xa="left")
T(848.3, 276, "spill", xa="left")
A(881.7, 230, 841.7, 101.7)
A(982, 239, 975, 413)
T(911.5, 380, "<i>Zoom up</i>", size=25, fam=OBL)

# ------------------------------------------------------------------ bottom-left panel decorations
for xv in LEFT_LIMITS:
    shapes.append(dict(type="line", xref="x", yref="y", x0=xv, x1=xv,
                       y0=LEFT_RANGE_Y[0], y1=LEFT_RANGE_Y[1],
                       line=dict(color="black", width=1.5, dash="7px,4px"), layer="above"))
A(292, 660, 292, 388)
A(86, 535.7, 525, 535.7)
T(50, 385, "(rad)", size=27)
T(42, 415, "0.003", size=24)
T(55, 537, "0.0", size=24, bg="white")
T(42, 665, "-0.003", size=24)
T(330, 398, "<i>x'<sub>β</sub></i>", size=26)
T(537, 572, "<i>x<sub>β</sub></i>", size=27)
T(268, 657, "<i>x<sub>eq</sub></i>", size=26)
T(121.7, 692, "-6 mm", size=24)
T(467.5, 692, "6 mm", size=24)

# ------------------------------------------------------------------ bottom-right panel decorations
for xv in RIGHT_LIMITS:
    shapes.append(dict(type="line", xref="x3", yref="y3", x0=xv, x1=xv,
                       y0=RIGHT_RANGE_Y[0], y1=RIGHT_RANGE_Y[1],
                       line=dict(color="black", width=1.5, dash="7px,4px"), layer="above"))
L(1032.4, 411.7, 1032.4, 661.7, color="#b4b4b4", w=3.5)
A(1032.4, 659, 1032.4, 385, w=1.6)
A(810, 535.7, 1275, 535.7)
T(771, 385, "(rad)", size=27)
T(765, 416, "0.001", size=24)
T(777, 538, "0.0", size=24, bg="white")
T(763, 665, "-0.001", size=24)
T(1066, 397, "<i>x'<sub>β</sub></i>", size=26)
T(1222, 502, "<i>x<sub>β</sub></i>", size=27)
T(1036, 692, "<i>x<sub>eq</sub></i>", size=26)
T(845, 693, "-15 mm", size=24)
T(1227, 693, "15 mm", size=24)

fig.update_layout(shapes=shapes, annotations=ann)
fig.write_html("out.html")
